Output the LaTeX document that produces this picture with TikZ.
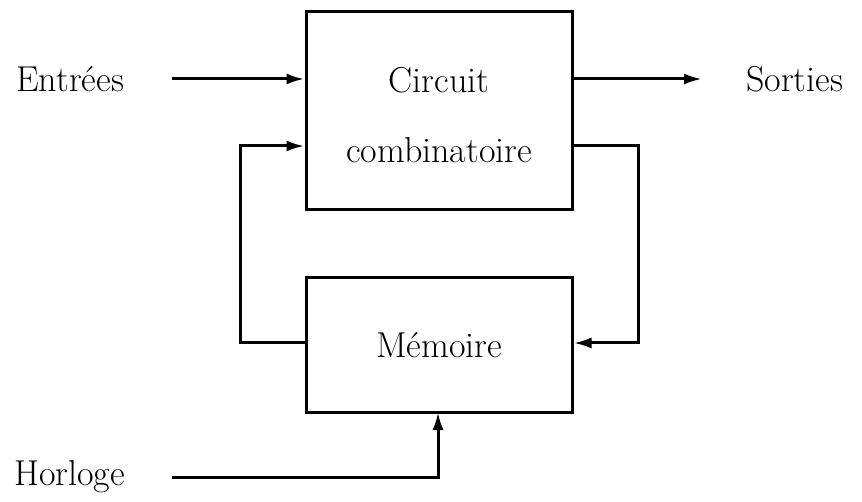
\documentclass[tikz,border=0pt]{standalone}
\usetikzlibrary{arrows.meta}
\begin{document}
\begin{tikzpicture}[x=1pt,y=-1pt,
  lbl/.style={inner sep=0pt,font=\fontsize{36}{42}\selectfont},
  blk/.style={draw,line width=3pt,inner sep=0pt},
  wire/.style={line width=3pt},
  arr/.style={wire,-{Latex[length=18pt,width=11pt]}}]
\useasboundingbox (0,0) rectangle (862,502);
\node[blk,minimum width=266pt,minimum height=198pt] (cc) at (439,111) {};
\node[lbl] at (439,80) {Circuit};
\node[lbl] at (439,150) {combinatoire};
\node[blk,minimum width=266pt,minimum height=134pt] (mem) at (439,345) {};
\node[lbl] (memt) at (439,345) {Mémoire};
\node[lbl,anchor=west] (in) at (16,79) {Entrées};
\node[lbl,anchor=west] (out) at (746,79) {Sorties};
\node[lbl,anchor=west] (clk) at (14,477) {Horloge};
\coordinate (ina) at (172,79);
\coordinate (outb) at (702,79);
\coordinate (clka) at (172,477);
\draw[arr] (ina) -- (ina -| cc.west);
\draw[arr] (cc.east |- ina) -- (outb);
\draw[arr] (mem.west |- 0,343) -- (240,343) -- (240,146) -- (cc.west |- 0,146);
\draw[arr] (cc.east |- 0,146) -- (638,146) -- (638,343) -- (mem.east |- 0,343);
\draw[arr] (clka) -- (438,477) -- (438,412);
\end{tikzpicture}
\end{document}
